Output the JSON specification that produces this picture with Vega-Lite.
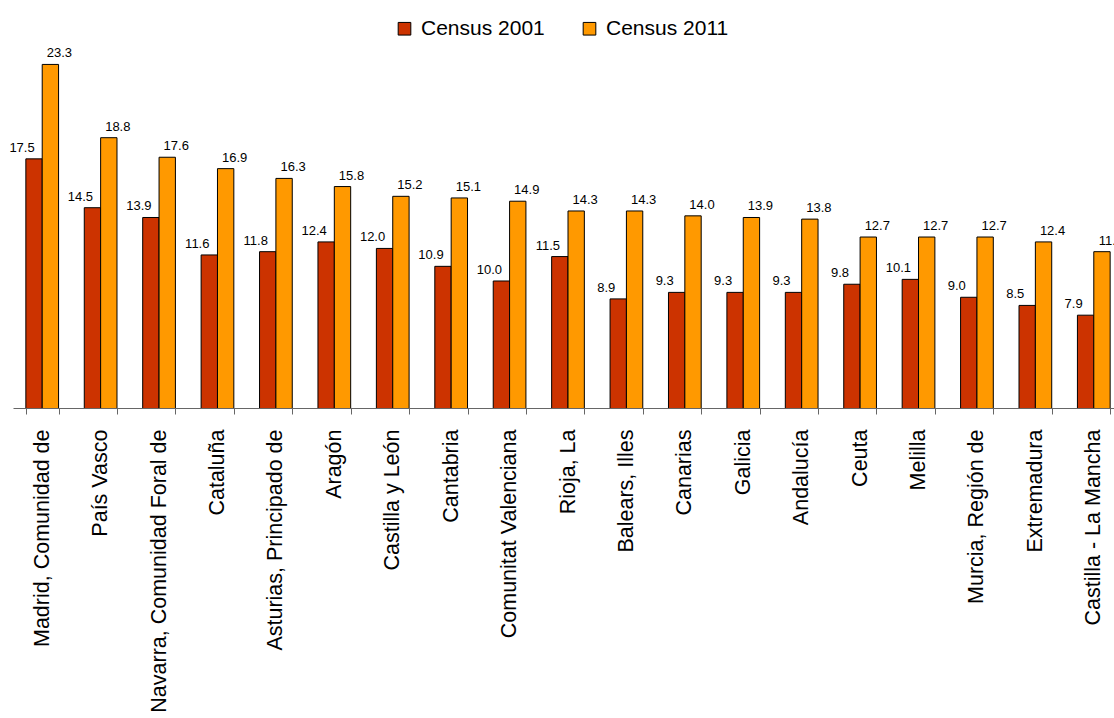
{
  "$schema": "https://vega.github.io/schema/vega-lite/v6.json",
  "width": 1110,
  "height": 368,
  "padding": {"left": 13, "top": 40, "right": 0, "bottom": 310},
  "autosize": {"type": "none"},
  "config": {
    "view": {"stroke": null},
    "font": "Liberation Sans",
    "background": "white"
  },
  "data": {
    "values": [
      {"region": "Madrid, Comunidad de", "census": "Census 2001", "value": 17.5},
      {"region": "Madrid, Comunidad de", "census": "Census 2011", "value": 23.3},
      {"region": "País Vasco", "census": "Census 2001", "value": 14.5},
      {"region": "País Vasco", "census": "Census 2011", "value": 18.8},
      {"region": "Navarra, Comunidad Foral de", "census": "Census 2001", "value": 13.9},
      {"region": "Navarra, Comunidad Foral de", "census": "Census 2011", "value": 17.6},
      {"region": "Cataluña", "census": "Census 2001", "value": 11.6},
      {"region": "Cataluña", "census": "Census 2011", "value": 16.9},
      {"region": "Asturias, Principado de", "census": "Census 2001", "value": 11.8},
      {"region": "Asturias, Principado de", "census": "Census 2011", "value": 16.3},
      {"region": "Aragón", "census": "Census 2001", "value": 12.4},
      {"region": "Aragón", "census": "Census 2011", "value": 15.8},
      {"region": "Castilla y León", "census": "Census 2001", "value": 12.0},
      {"region": "Castilla y León", "census": "Census 2011", "value": 15.2},
      {"region": "Cantabria", "census": "Census 2001", "value": 10.9},
      {"region": "Cantabria", "census": "Census 2011", "value": 15.1},
      {"region": "Comunitat Valenciana", "census": "Census 2001", "value": 10.0},
      {"region": "Comunitat Valenciana", "census": "Census 2011", "value": 14.9},
      {"region": "Rioja, La", "census": "Census 2001", "value": 11.5},
      {"region": "Rioja, La", "census": "Census 2011", "value": 14.3},
      {"region": "Balears, Illes", "census": "Census 2001", "value": 8.9},
      {"region": "Balears, Illes", "census": "Census 2011", "value": 14.3},
      {"region": "Canarias", "census": "Census 2001", "value": 9.3},
      {"region": "Canarias", "census": "Census 2011", "value": 14.0},
      {"region": "Galicia", "census": "Census 2001", "value": 9.3},
      {"region": "Galicia", "census": "Census 2011", "value": 13.9},
      {"region": "Andalucía", "census": "Census 2001", "value": 9.3},
      {"region": "Andalucía", "census": "Census 2011", "value": 13.8},
      {"region": "Ceuta", "census": "Census 2001", "value": 9.8},
      {"region": "Ceuta", "census": "Census 2011", "value": 12.7},
      {"region": "Melilla", "census": "Census 2001", "value": 10.1},
      {"region": "Melilla", "census": "Census 2011", "value": 12.7},
      {"region": "Murcia, Región de", "census": "Census 2001", "value": 9.0},
      {"region": "Murcia, Región de", "census": "Census 2011", "value": 12.7},
      {"region": "Extremadura", "census": "Census 2001", "value": 8.5},
      {"region": "Extremadura", "census": "Census 2011", "value": 12.4},
      {"region": "Castilla - La Mancha", "census": "Census 2001", "value": 7.9},
      {"region": "Castilla - La Mancha", "census": "Census 2011", "value": 11.8}
    ]
  },
  "encoding": {
    "x": {
      "field": "region",
      "type": "nominal",
      "sort": null,
      "scale": {"paddingInner": 0.44, "paddingOuter": 0.22},
      "axis": {
        "title": null,
        "labelAngle": -90,
        "labelFontSize": 21.5,
        "labelColor": "black",
        "labelPadding": 15,
        "labelLimit": 0,
        "tickBand": "extent",
        "tickSize": 6,
        "tickColor": "#666666",
        "domainColor": "#666666",
        "labelFont": "Liberation Sans"
      }
    },
    "xOffset": {"field": "census", "type": "nominal", "scale": {"paddingInner": 0, "paddingOuter": 0}},
    "y": {
      "field": "value",
      "type": "quantitative",
      "scale": {"domain": [2.2, 24.8], "zero": false, "nice": false},
      "axis": null
    }
  },
  "layer": [
    {
      "mark": {"type": "bar", "stroke": "black", "strokeWidth": 1, "clip": true},
      "encoding": {
        "y2": {"datum": 0},
        "color": {
          "field": "census",
          "type": "nominal",
          "scale": {"domain": ["Census 2001", "Census 2011"], "range": ["#CC3300", "#FF9900"]},
          "legend": {
            "title": null,
            "orient": "none",
            "direction": "horizontal",
            "legendX": 381,
            "legendY": -22,
            "symbolType": "square",
            "symbolSize": 160,
            "symbolStrokeColor": "black",
            "symbolStrokeWidth": 1,
            "labelFontSize": 21,
            "labelColor": "black",
            "labelOffset": 6,
            "columnPadding": 34,
            "labelFont": "Liberation Sans"
          }
        }
      }
    },
    {
      "transform": [{"filter": "datum.census == 'Census 2001'"}],
      "mark": {"type": "text", "dx": -12, "dy": -7, "baseline": "alphabetic", "align": "center", "fontSize": 13, "color": "black"},
      "encoding": {"text": {"field": "value", "type": "quantitative", "format": ".1f"}}
    },
    {
      "transform": [{"filter": "datum.census == 'Census 2011'"}],
      "mark": {"type": "text", "dx": 9, "dy": -7, "baseline": "alphabetic", "align": "center", "fontSize": 13, "color": "black"},
      "encoding": {"text": {"field": "value", "type": "quantitative", "format": ".1f"}}
    }
  ]
}
